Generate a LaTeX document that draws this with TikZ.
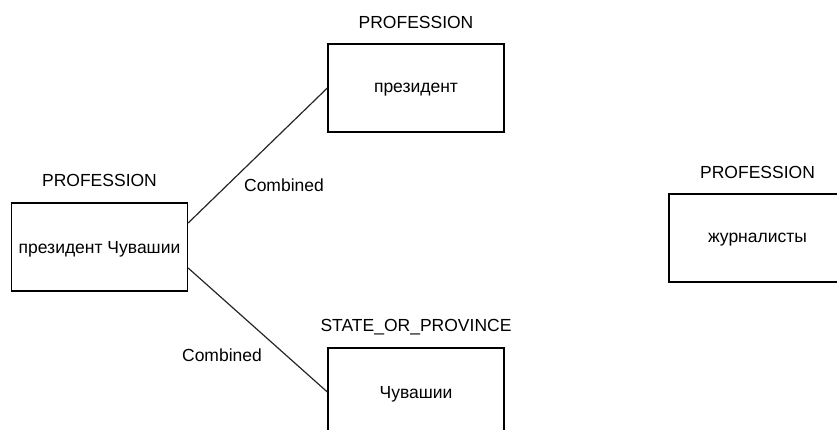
\documentclass[tikz,border=0pt]{standalone}
\usepackage{fontspec}
\setmainfont{Liberation Sans}
\begin{document}
\begin{tikzpicture}[x=1pt,y=-1pt,
  entbox/.style={draw=black,line width=1.3pt,minimum width=176pt,minimum height=88pt,inner sep=0pt,text depth=0pt,font=\fontsize{17.5}{20}\selectfont},
  enttype/.style={font=\fontsize{17.5}{20}\selectfont,inner sep=0pt},
  rel/.style={draw=black!85,line width=1.2pt},
  rellabel/.style={font=\fontsize{17.5}{20}\selectfont,inner sep=0pt}]
\useasboundingbox (0,0) rectangle (837,430);
% edit here for the boxes
\node[entbox] (chuvpres) at (99.5,247) {президент Чувашии};
\node[entbox] (pres) at (416,88) {президент};
\node[entbox] (chuv) at (416,392) {Чувашии};
\node[entbox,minimum width=177pt] (journ) at (757.5,238) {журналисты};
% edit here for the types
\node[enttype] (chuvprestype) at (99.5,180) {PROFESSION};
\node[enttype] (prestype) at (416,22) {PROFESSION};
\node[enttype] (chuvtype) at (416,327) {STATE\_OR\_PROVINCE};
\node[enttype] (journtype) at (757.5,172) {PROFESSION};
% edit here for the links
\draw[rel] ([yshift=24pt]chuvpres.east) -- (pres.west);
\draw[rel] ([yshift=-21pt]chuvpres.east) -- (chuv.west);
\node[rellabel] (toplink) at (284,185) {Combined};
\node[rellabel] (botlink) at (222,355) {Combined};
\end{tikzpicture}
\end{document}
